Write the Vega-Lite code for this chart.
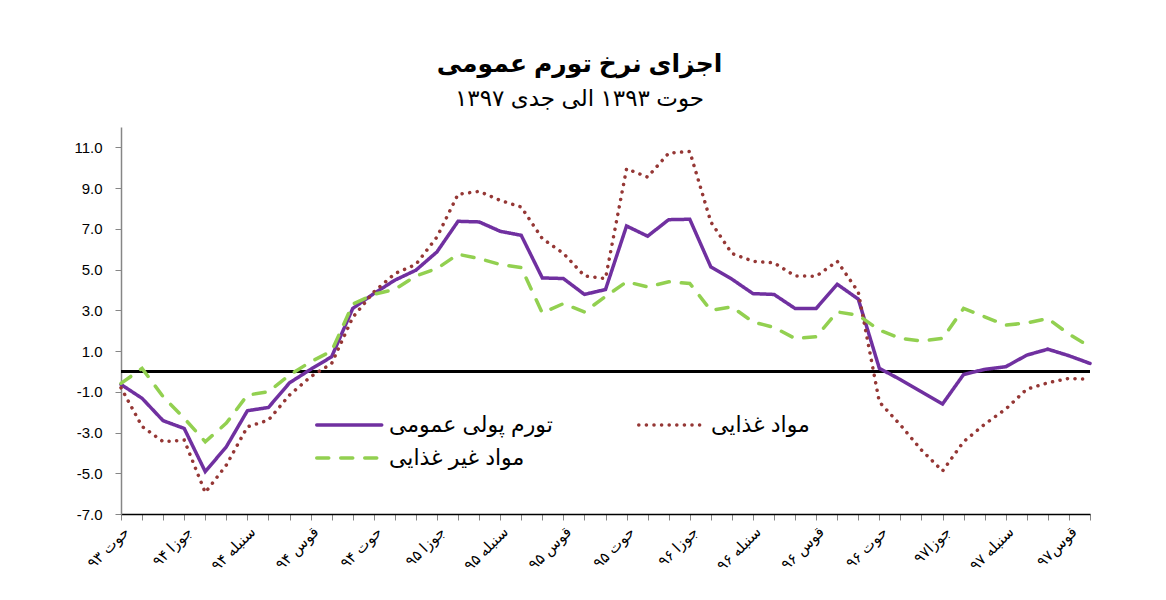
{
  "$schema": "https://vega.github.io/schema/vega-lite/v6.json",
  "width": 969,
  "height": 387,
  "autosize": {"type": "none"},
  "padding": {"left": 121, "top": 127, "right": 76, "bottom": 86},
  "background": "white",
  "config": {"view": {"stroke": null}, "font": "Liberation Sans, DejaVu Sans"},
  "title": {
    "text": "اجزای نرخ تورم عمومی",
    "subtitle": "حوت ۱۳۹۳ الی جدی ۱۳۹۷",
    "fontSize": 25,
    "fontWeight": "bold",
    "subtitleFontSize": 23,
    "color": "black",
    "subtitleColor": "black",
    "font": "Liberation Sans, DejaVu Sans",
    "subtitleFont": "Liberation Sans, DejaVu Sans",
    "dx": -26,
    "offset": 16,
    "subtitlePadding": 11
  },
  "data": {
    "values": [
      {"month": "حوت ۹۳", "تورم پولی  عمومی": -0.64, "مواد غذایی": -0.8, "مواد غیر غذایی": -0.59},
      {"month": "حمل ۹۴", "تورم پولی  عمومی": -1.32, "مواد غذایی": -2.7, "مواد غیر غذایی": 0.15},
      {"month": "ثور ۹۴", "تورم پولی  عمومی": -2.42, "مواد غذایی": -3.45, "مواد غیر غذایی": -1.24},
      {"month": "جوزا ۹۴", "تورم پولی  عمومی": -2.8, "مواد غذایی": -3.37, "مواد غیر غذایی": -2.3},
      {"month": "سرطان ۹۴", "تورم پولی  عمومی": -4.92, "مواد غذایی": -5.95, "مواد غیر غذایی": -3.45},
      {"month": "اسد ۹۴", "تورم پولی  عمومی": -3.7, "مواد غذایی": -4.6, "مواد غیر غذایی": -2.54},
      {"month": "سنبله ۹۴", "تورم پولی  عمومی": -1.93, "مواد غذایی": -2.72, "مواد غیر غذایی": -1.16},
      {"month": "میزان ۹۴", "تورم پولی  عمومی": -1.77, "مواد غذایی": -2.39, "مواد غیر غذایی": -1.0},
      {"month": "عقرب ۹۴", "تورم پولی  عمومی": -0.56, "مواد غذایی": -1.16, "مواد غیر غذایی": -0.18},
      {"month": "قوس ۹۴", "تورم پولی  عمومی": 0.1, "مواد غذایی": -0.26, "مواد غیر غذایی": 0.47},
      {"month": "جدی ۹۴", "تورم پولی  عمومی": 0.72, "مواد غذایی": 0.39, "مواد غیر غذایی": 1.0},
      {"month": "دلو ۹۴", "تورم پولی  عمومی": 3.09, "مواد غذایی": 2.65, "مواد غیر غذایی": 3.3},
      {"month": "حوت ۹۴", "تورم پولی  عمومی": 3.82, "مواد غذایی": 3.9, "مواد غیر غذایی": 3.78},
      {"month": "حمل ۹۵", "تورم پولی  عمومی": 4.48, "مواد غذایی": 4.8, "مواد غیر غذایی": 4.03},
      {"month": "ثور ۹۵", "تورم پولی  عمومی": 4.97, "مواد غذایی": 5.25, "مواد غیر غذایی": 4.69},
      {"month": "جوزا ۹۵", "تورم پولی  عمومی": 5.87, "مواد غذایی": 6.6, "مواد غیر غذایی": 5.05},
      {"month": "سرطان ۹۵", "تورم پولی  عمومی": 7.37, "مواد غذایی": 8.7, "مواد غیر غذایی": 5.75},
      {"month": "اسد ۹۵", "تورم پولی  عمومی": 7.34, "مواد غذایی": 8.84, "مواد غیر غذایی": 5.54},
      {"month": "سنبله ۹۵", "تورم پولی  عمومی": 6.88, "مواد غذایی": 8.4, "مواد غیر غذایی": 5.25},
      {"month": "میزان ۹۵", "تورم پولی  عمومی": 6.68, "مواد غذایی": 8.07, "مواد غیر غذایی": 5.1},
      {"month": "عقرب ۹۵", "تورم پولی  عمومی": 4.59, "مواد غذایی": 6.52, "مواد غیر غذایی": 2.87},
      {"month": "قوس ۹۵", "تورم پولی  عمومی": 4.56, "مواد غذایی": 5.8, "مواد غیر غذایی": 3.33},
      {"month": "جدی ۹۵", "تورم پولی  عمومی": 3.78, "مواد غذایی": 4.69, "مواد غیر غذایی": 2.92},
      {"month": "دلو ۹۵", "تورم پولی  عمومی": 4.02, "مواد غذایی": 4.56, "مواد غیر غذایی": 3.68},
      {"month": "حوت ۹۵", "تورم پولی  عمومی": 7.14, "مواد غذایی": 9.95, "مواد غیر غذایی": 4.4},
      {"month": "حمل ۹۶", "تورم پولی  عمومی": 6.64, "مواد غذایی": 9.54, "مواد غیر غذایی": 4.15},
      {"month": "ثور ۹۶", "تورم پولی  عمومی": 7.45, "مواد غذایی": 10.72, "مواد غیر غذایی": 4.4},
      {"month": "جوزا ۹۶", "تورم پولی  عمومی": 7.47, "مواد غذایی": 10.8, "مواد غیر غذایی": 4.32},
      {"month": "سرطان ۹۶", "تورم پولی  عمومی": 5.13, "مواد غذایی": 7.34, "مواد غیر غذایی": 3.0},
      {"month": "اسد ۹۶", "تورم پولی  عمومی": 4.53, "مواد غذایی": 5.79, "مواد غیر غذایی": 3.17},
      {"month": "سنبله ۹۶", "تورم پولی  عمومی": 3.82, "مواد غذایی": 5.41, "مواد غیر غذایی": 2.43},
      {"month": "میزان ۹۶", "تورم پولی  عمومی": 3.78, "مواد غذایی": 5.33, "مواد غیر غذایی": 2.16},
      {"month": "عقرب ۹۶", "تورم پولی  عمومی": 3.09, "مواد غذایی": 4.69, "مواد غیر غذایی": 1.62},
      {"month": "قوس ۹۶", "تورم پولی  عمومی": 3.09, "مواد غذایی": 4.67, "مواد غیر غذایی": 1.7},
      {"month": "جدی ۹۶", "تورم پولی  عمومی": 4.28, "مواد غذایی": 5.41, "مواد غیر غذایی": 2.92},
      {"month": "دلو ۹۶", "تورم پولی  عمومی": 3.55, "مواد غذایی": 3.9, "مواد غیر غذایی": 2.76},
      {"month": "حوت ۹۶", "تورم پولی  عمومی": 0.15, "مواد غذایی": -1.5, "مواد غیر غذایی": 2.03},
      {"month": "حمل ۹۷", "تورم پولی  عمومی": -0.4, "مواد غذایی": -2.63, "مواد غیر غذایی": 1.62},
      {"month": "ثور ۹۷", "تورم پولی  عمومی": -1.0, "مواد غذایی": -3.86, "مواد غیر غذایی": 1.5},
      {"month": "جوزا۹۷", "تورم پولی  عمومی": -1.6, "مواد غذایی": -4.89, "مواد غیر غذایی": 1.62},
      {"month": "سرطان ۹۷", "تورم پولی  عمومی": -0.15, "مواد غذایی": -3.45, "مواد غیر غذایی": 3.09},
      {"month": "اسد ۹۷", "تورم پولی  عمومی": 0.1, "مواد غذایی": -2.59, "مواد غیر غذایی": 2.68},
      {"month": "سنبله ۹۷", "تورم پولی  عمومی": 0.23, "مواد غذایی": -1.85, "مواد غیر غذایی": 2.27},
      {"month": "میزان ۹۷", "تورم پولی  عمومی": 0.8, "مواد غذایی": -0.87, "مواد غیر غذایی": 2.38},
      {"month": "عقرب ۹۷", "تورم پولی  عمومی": 1.09, "مواد غذایی": -0.56, "مواد غیر غذایی": 2.6},
      {"month": "قوس۹۷", "تورم پولی  عمومی": 0.77, "مواد غذایی": -0.34, "مواد غیر غذایی": 1.83},
      {"month": "جدی ۹۷", "تورم پولی  عمومی": 0.39, "مواد غذایی": -0.39, "مواد غیر غذایی": 1.21}
    ]
  },
  "layer": [
    {
      "mark": {"type": "rule", "color": "black", "strokeWidth": 3},
      "encoding": {"y": {"datum": 0, "type": "quantitative"}}
    },
    {
      "transform": [{"fold": ["تورم پولی  عمومی", "مواد غذایی", "مواد غیر غذایی"], "as": ["series", "value"]}],
      "mark": {"type": "line", "strokeWidth": 3.5, "strokeCap": "round"},
      "encoding": {
        "x": {
          "field": "month",
          "type": "ordinal",
          "sort": null,
          "scale": {"type": "point", "padding": 0},
          "axis": {
            "title": null,
            "labelAngle": -45,
            "labelFontSize": 15,
            "labelColor": "black",
            "labelFont": "Liberation Sans, DejaVu Sans",
            "labelOverlap": false,
            "labelPadding": 4,
            "domainColor": "black",
            "domainWidth": 1.5,
            "tickColor": "#868686",
            "tickSize": 6,
            "grid": false,
            "labelExpr": "indexof(['حوت ۹۳','جوزا ۹۴','سنبله ۹۴','قوس ۹۴','حوت ۹۴','جوزا ۹۵','سنبله ۹۵','قوس ۹۵','حوت ۹۵','جوزا ۹۶','سنبله ۹۶','قوس ۹۶','حوت ۹۶','جوزا۹۷','سنبله ۹۷','قوس۹۷'], datum.value) >= 0 ? datum.value : ''"
          }
        },
        "y": {
          "field": "value",
          "type": "quantitative",
          "scale": {"domain": [-7, 12], "nice": false, "zero": false},
          "axis": {
            "title": null,
            "values": [-7, -5, -3, -1, 1, 3, 5, 7, 9, 11],
            "labelExpr": "replace(format(datum.value, '.1f'), '−', '-')",
            "labelFontSize": 15,
            "labelColor": "black",
            "labelFont": "Liberation Sans",
            "labelPadding": 13,
            "domainColor": "#868686",
            "domainWidth": 1.5,
            "tickColor": "#868686",
            "tickSize": 6,
            "grid": false
          }
        },
        "color": {
          "field": "series",
          "type": "nominal",
          "scale": {"domain": ["تورم پولی  عمومی", "مواد غذایی", "مواد غیر غذایی"], "range": ["#7030A0", "#953735", "#92D050"]},
          "legend": {
            "orient": "none",
            "direction": "horizontal",
            "legendX": 194,
            "legendY": 280,
            "columns": 2,
            "columnPadding": 72,
            "rowPadding": 4,
            "title": null,
            "symbolType": "M-1,0H3",
            "symbolSize": 1056,
            "symbolStrokeWidth": 3.5,
            "labelFontSize": 22,
            "labelColor": "black",
            "labelFont": "Liberation Sans, DejaVu Sans",
            "labelLimit": 400,
            "labelOffset": 38,
            "encode": {"symbols": {"update": {"strokeCap": {"value": "round"}}}}
          }
        },
        "strokeDash": {
          "field": "series",
          "type": "nominal",
          "scale": {"domain": ["تورم پولی  عمومی", "مواد غذایی", "مواد غیر غذایی"], "range": [[1, 0], [0.1, 7.5], [12, 12]]},
          "legend": {
            "orient": "none",
            "direction": "horizontal",
            "legendX": 194,
            "legendY": 280,
            "columns": 2,
            "columnPadding": 72,
            "rowPadding": 4,
            "title": null,
            "symbolType": "M-1,0H3",
            "symbolSize": 1056,
            "symbolStrokeWidth": 3.5,
            "labelFontSize": 22,
            "labelColor": "black",
            "labelFont": "Liberation Sans, DejaVu Sans",
            "labelLimit": 400,
            "labelOffset": 38,
            "encode": {"symbols": {"update": {"strokeCap": {"value": "round"}}}}
          }
        }
      }
    }
  ]
}
